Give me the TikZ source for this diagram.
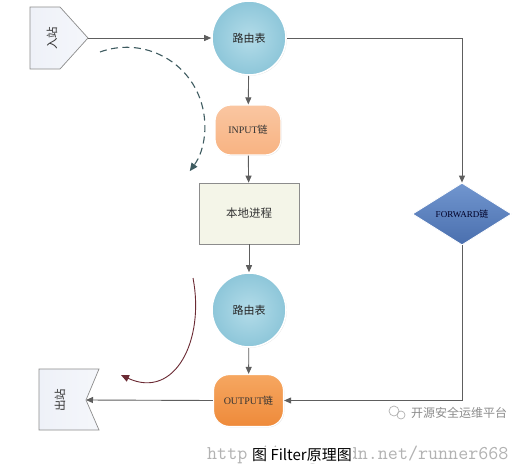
\documentclass[tikz,border=0pt]{standalone}
\usepackage{fontspec}
\setmainfont{Liberation Serif}
\newfontfamily\cjk{Noto Sans CJK SC}
\usetikzlibrary{arrows.meta,shadows,calc,shapes.geometric}
\definecolor{lineg}{HTML}{5E5E5E}
\definecolor{circfill}{HTML}{A6D6E5}
\definecolor{circedge}{HTML}{8DC6D9}
\definecolor{infill}{HTML}{F8B382}
\definecolor{outfill}{HTML}{EE8A3A}
\definecolor{outtop}{HTML}{F6A761}
\definecolor{boxfill}{HTML}{F4F5E8}
\definecolor{boxdraw}{HTML}{8C8C8C}
\definecolor{fwdtop}{HTML}{7196CF}
\definecolor{fwdbot}{HTML}{4A6FAE}
\definecolor{pentfill}{HTML}{EEF1F8}
\definecolor{dasharc}{HTML}{3E5B60}
\definecolor{redarc}{HTML}{6B2A33}
\begin{document}
\begin{tikzpicture}[x=1pt,y=-1pt,
  conn/.style={draw=lineg,line width=0.9pt,-{Triangle[length=7pt,width=6pt]}},
  router/.style={circle,minimum size=74pt,inner sep=0pt,draw=white,line width=1.6pt,
    inner color=circfill!85!white,outer color=circedge,
    drop shadow={opacity=0.22,shadow xshift=0.8pt,shadow yshift=-0.8pt},
    font=\cjk\fontsize{11}{13}\selectfont,text=black!85},
  chain/.style={rounded corners=16pt,minimum width=66pt,minimum height=50pt,inner sep=0pt,
    draw=white,line width=1.2pt,drop shadow={opacity=0.2,shadow xshift=0.8pt,shadow yshift=-0.8pt},
    font=\fontsize{10}{12}\selectfont,text=black!80},
  procbox/.style={rectangle,minimum width=100pt,minimum height=61pt,inner sep=0pt,
    draw=boxdraw,line width=0.7pt,fill=boxfill,font=\cjk\fontsize{11.5}{13}\selectfont,text=black!80},
  pent/.style={draw=boxdraw,line width=0.7pt,left color=pentfill,right color=pentfill!60!white},
  sidelabel/.style={rotate=90,font=\cjk\fontsize{11.5}{13}\selectfont,text=black!80}
]
\useasboundingbox[fill=white] (0,0) rectangle (528,471);

% entry pentagon
\path[pent] (30,7) -- (60,7) -- (88,38) -- (60,69) -- (30,69) -- cycle;
\coordinate (intip) at (88,38);
\node[sidelabel] (in) at (52,38) {入站};

% exit flag
\path[pent] (39,369) -- (99,369) -- (86,400) -- (99,430) -- (39,430) -- cycle;
\coordinate (outnotch) at (86,400);
\node[sidelabel] (out) at (60,400) {出站};

% main nodes
\node[router] (rt1) at (249,38) {路由表};
\node[chain,top color=infill!75!white,bottom color=infill] (input) at (248,130) {INPUT{\cjk 链}};
\node[procbox] (local) at (249,213.5) {本地进程};
\node[router] (rt2) at (249,310) {路由表};
\node[chain,top color=outtop,bottom color=outfill,minimum width=70pt,minimum height=52pt] (output) at (248.5,400.5) {OUTPUT{\cjk 链}};
\node[diamond,aspect=1.6,minimum width=99pt,minimum height=62pt,inner sep=0pt,
  draw=white,line width=0.8pt,top color=fwdtop,bottom color=fwdbot,
  font=\fontsize{9}{11}\selectfont,text=black!85!blue] (fwd) at (462,214) {FORWARD{\cjk 链}};

% connectors
\draw[conn] (intip) -- (rt1.west);
\draw[conn] (rt1) -- (input);
\draw[conn] (input) -- (local);
\draw[conn] (local) -- (rt2);
\draw[conn] (rt2) -- (output);
\draw[conn] (rt1.east) -| (fwd.north);
\draw[conn] (fwd.south) |- (output.east);
\draw[conn] (output.west) -- (outnotch);

% curved hints
\draw[dasharc,line width=1.1pt,dash pattern=on 7pt off 4.5pt,-{Triangle[length=8pt,width=7pt]}]
  (100,52) arc[start angle=110,end angle=-36,radius=78pt];
\draw[redarc,line width=0.9pt,-{Triangle[length=8pt,width=7pt]}]
  (193,278) .. controls (205,340) and (175,400) .. (121,375);

% watermarks and caption
\node[anchor=base west,inner sep=0pt,font=\ttfamily\fontsize{19.5}{21}\selectfont,text=black!30] (wm) at (207,459) {http://blog.csdn.net/runner668};
\node[font=\cjk\fontsize{12}{14}\selectfont,text=black!45,anchor=west,inner sep=0pt] (wx) at (411,413) {开源安全运维平台};
\draw[black!30,line width=0.7pt] (wx.west) ++(-17,-2) circle[radius=5pt];
\draw[black!30,line width=0.7pt] (wx.west) ++(-10,2) circle[radius=4pt];
\node[fill=white,inner sep=1pt,font=\cjk\fontsize{15}{17}\selectfont,text=black] (cap) at (302,455) {图 Filter原理图};
\end{tikzpicture}
\end{document}
